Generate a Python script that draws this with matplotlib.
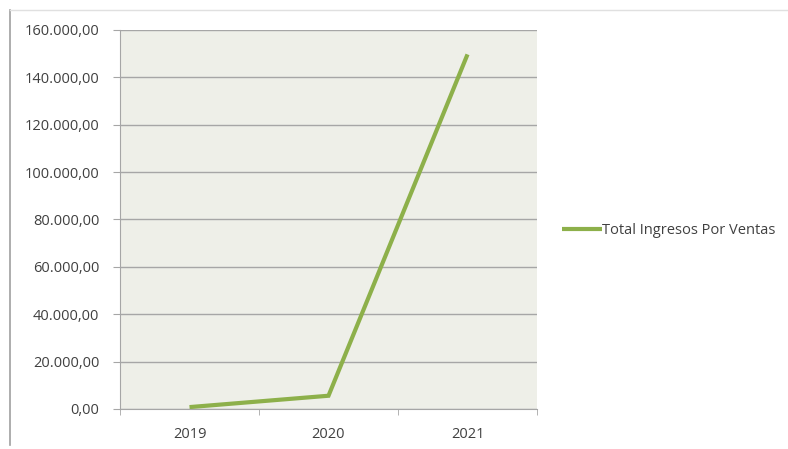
import matplotlib
matplotlib.use("Agg")
import matplotlib.pyplot as plt
from matplotlib.ticker import FuncFormatter, FixedLocator
from matplotlib.lines import Line2D

years = ["2019", "2020", "2021"]
ingresos = [800.0, 5600.0, 149700.0]
serie = "Total Ingresos Por Ventas"
y_ticks = [0, 20000, 40000, 60000, 80000, 100000, 120000, 140000, 160000]

plt.rcParams['font.family'] = ['Open Sans', 'DejaVu Sans']


def es_fmt(v, pos=None):
  s = "{:,.2f}".format(v)
  return s.replace(",", "X").replace(".", ",").replace("X", ".")


fig = plt.figure(figsize=(7.88, 4.49), dpi=100)
ax = fig.add_axes([120 / 788, 40 / 449, 417 / 788, 379 / 449])
ax.set_facecolor("#eeefe8")

x = range(len(years))
line, = ax.plot(x, ingresos, color="#8db04a", lw=3.0, solid_capstyle="butt",
                solid_joinstyle="miter", label=serie)

ax.set_xlim(-0.5, len(years) - 0.5)
ax.set_ylim(0, 160000)
ax.set_yticks(y_ticks)
ax.yaxis.set_major_formatter(FuncFormatter(es_fmt))
ax.set_xticks(list(x))
ax.set_xticklabels(years)
ax.xaxis.set_minor_locator(FixedLocator([i + 0.5 for i in range(-1, len(years))]))

ax.grid(axis="y", color="#a6a6a6", lw=1)
ax.set_axisbelow(True)
for side in ("top", "right"):
  ax.spines[side].set_visible(False)
for side in ("left", "bottom"):
  ax.spines[side].set_color("#a6a6a6")
ax.tick_params(axis="y", length=5, color="#a6a6a6", labelsize=10.5, labelcolor="#404040", pad=10)
ax.tick_params(axis="x", which="major", length=0, labelsize=10.5, labelcolor="#404040", pad=13)
ax.tick_params(axis="x", which="minor", length=4, color="#a6a6a6")

fig.legend(handles=[line], loc="center left", bbox_to_anchor=(549 / 788, 1 - 231 / 449),
           frameon=False, fontsize=10.5, handlelength=2.7, handletextpad=0.05,
           labelcolor="#404040")

# outer frame lines of the pasted picture
fig.add_artist(Line2D([10 / 788, 10 / 788], [4 / 449, 1 - 10 / 449], color="#a0a0a0", lw=1.2))
fig.add_artist(Line2D([10 / 788, 1], [1 - 10 / 449, 1 - 10 / 449], color="#e0e0e0", lw=1))

fig.savefig("out.png", dpi=100)
